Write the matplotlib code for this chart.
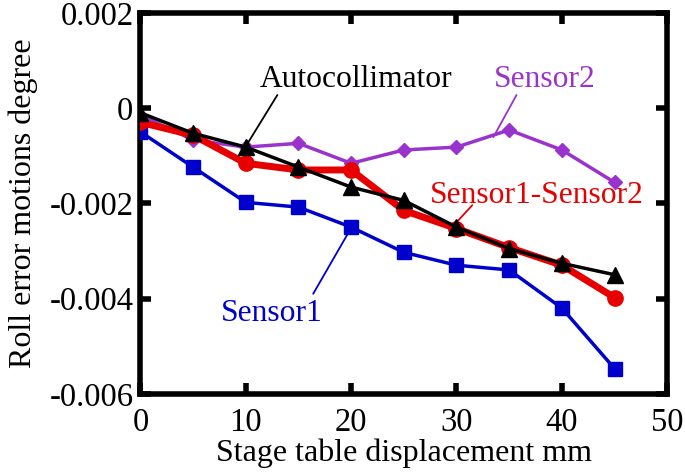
import matplotlib.pyplot as plt
from matplotlib.ticker import FixedLocator, FixedFormatter

# stage table displacement (mm)
disp = [0, 5, 10, 15, 20, 25, 30, 35, 40, 45]

# roll error motions (degree)
autocollimator = [-0.0001, -0.00053, -0.00082, -0.00124, -0.00166, -0.00194,
                  -0.0025, -0.00295, -0.00326, -0.0035]
sensor1 = [-0.0005, -0.00124, -0.00198, -0.00208, -0.0025, -0.00303,
           -0.0033, -0.0034, -0.0042, -0.00547]
sensor2 = [-0.00015, -0.00067, -0.00082, -0.00074, -0.00116, -0.00088,
           -0.00082, -0.00046, -0.00088, -0.00156]
diff = [-0.0003, -0.00057, -0.00116, -0.0013, -0.0013, -0.00215,
        -0.00253, -0.00293, -0.0033, -0.00398]

yticks = [0.002, 0, -0.002, -0.004, -0.006]
ytick_labels = ['0.002', '0', '-0.002', '-0.004', '-0.006']
xticks = [0, 10, 20, 30, 40, 50]

plt.rcParams['font.family'] = ['Liberation Serif', 'DejaVu Serif']

fig = plt.figure(figsize=(6.85, 4.75), dpi=100)
ax = fig.add_axes([0.205, 0.171, 0.769, 0.802])

blue = '#0000cc'
purple = '#9933cc'
red = '#e60000'

ax.plot(disp, sensor1, color=blue, lw=2.5, marker='s', ms=10, zorder=3)
ax.plot(disp, sensor2, color=purple, lw=2.5, marker='D', ms=7, zorder=3)
ax.plot(disp, diff, color=red, lw=5, marker='o', ms=11, zorder=4)
ax.plot(disp, autocollimator, color='black', lw=2.5, marker='^', ms=11, zorder=5)

ax.set_xlim(0, 50)
ax.set_ylim(-0.006, 0.002)
ax.xaxis.set_major_locator(FixedLocator(xticks))
ax.yaxis.set_major_locator(FixedLocator(yticks))
ax.yaxis.set_major_formatter(FixedFormatter(ytick_labels))
ax.tick_params(direction='in', length=8, width=4, labelsize=23.5,
               top=True, right=True)
ax.tick_params(axis='x', pad=10)
ax.tick_params(axis='y', pad=5)
for sp in ax.spines.values():
    sp.set_linewidth(4)

ax.set_xlabel('Stage table displacement mm', fontsize=23, labelpad=0)
ax.set_ylabel('Roll error motions degree', fontsize=23, labelpad=8)


# callouts: text plus a thin leader line
def callout(text, pos, start, end, color):
    ax.text(pos[0], pos[1], text, fontsize=22.7, color=color,
            ha='center', va='center', zorder=6)
    ax.annotate('', xy=end, xytext=start,
                arrowprops=dict(arrowstyle='-', color=color, lw=1.3,
                                shrinkA=0, shrinkB=0))


callout('Autocollimator', (20.5, 0.00059), (13.0, 0.000274), (9.9, -0.00084), 'black')
callout('Sensor2', (38.4, 0.00059), (35.7, 0.000274), (33.5, -0.00061), purple)
callout('Sensor1-Sensor2', (37.6, -0.00183), (31.5, -0.00204), (30.0, -0.0024), red)
callout('Sensor1', (12.5, -0.00432), (16.4, -0.0039), (20.1, -0.00248), blue)

fig.savefig('out.png', dpi=100)
